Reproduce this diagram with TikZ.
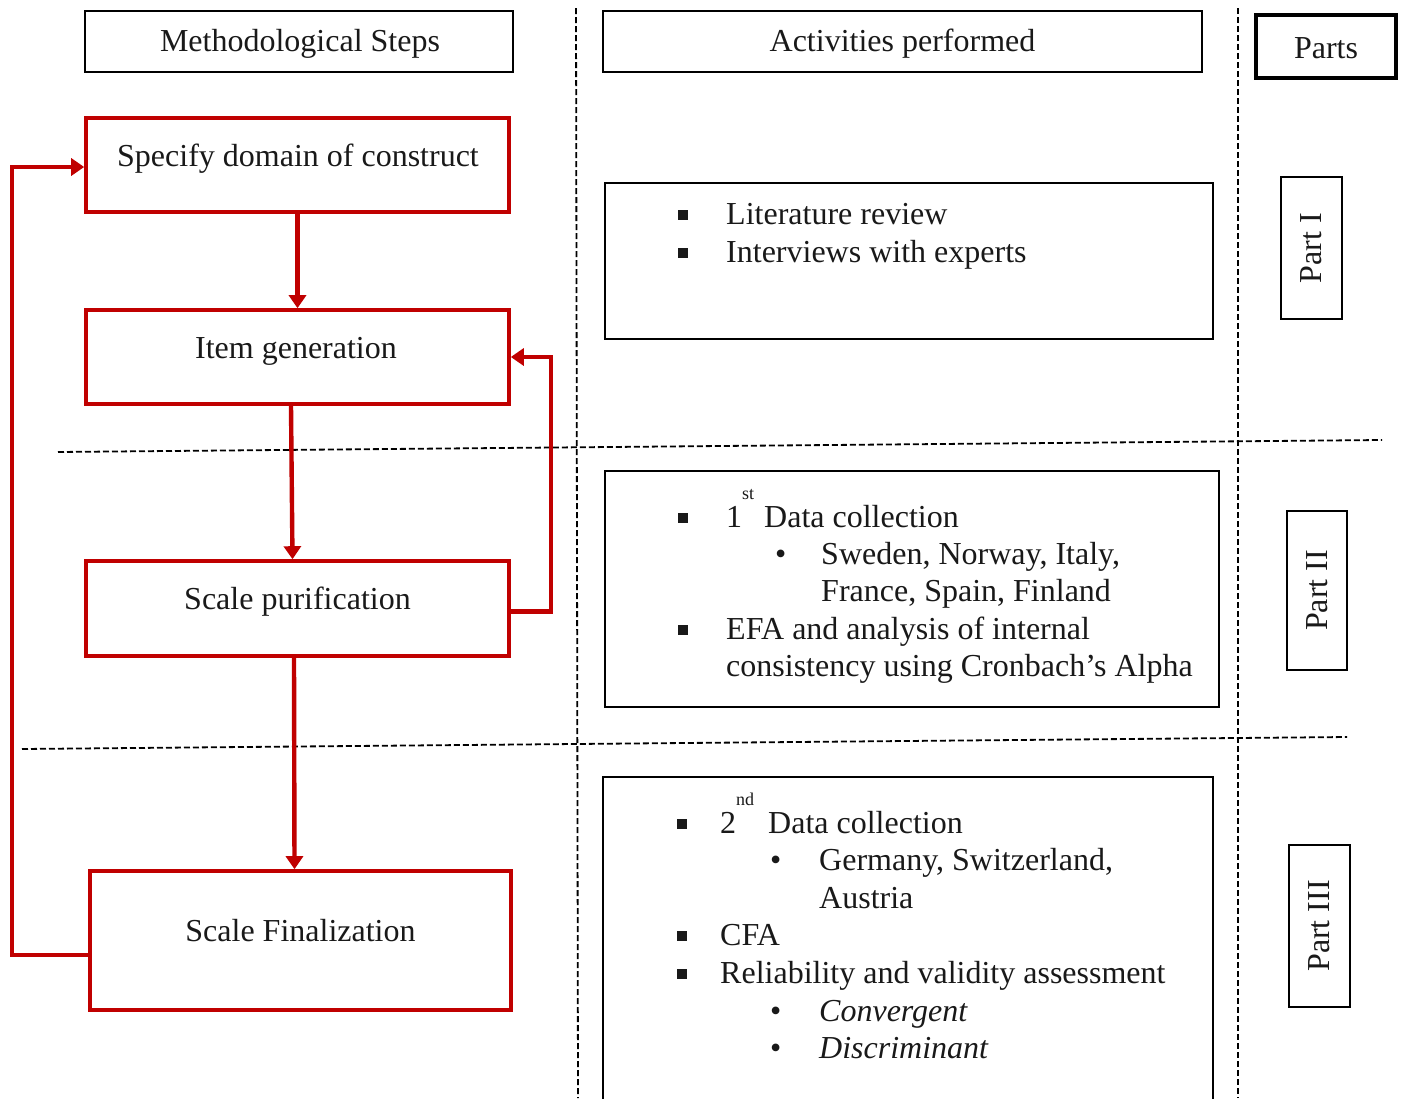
\documentclass[tikz,border=0pt]{standalone}
\usepackage{fontspec}
\setmainfont{Liberation Serif}
\usetikzlibrary{arrows.meta}
\definecolor{stepred}{RGB}{192,0,0}
\definecolor{ink}{RGB}{25,25,25}
\newcommand{\sqbul}{\rule[4pt]{10pt}{10pt}}
\newcommand{\supx}[1]{\raisebox{0.85em}{\fontsize{18}{18}\selectfont #1}}
\begin{document}
\begin{tikzpicture}[x=1pt,y=1pt,
  every node/.style={font=\fontsize{32}{37.5}\selectfont, text=ink},
  hdrbox/.style={draw=black, line width=2.4pt, inner sep=0},
  stepbox/.style={draw=stepred, line width=3.6pt, inner sep=0},
  actbox/.style={draw=black, line width=2.6pt, inner sep=0},
  partbox/.style={draw=black, line width=2.2pt, inner sep=0, rotate=90},
  lbl/.style={inner sep=0},
  txt/.style={anchor=base west, inner sep=0},
  flow/.style={draw=stepred, line width=4.4pt, -{Triangle[width=17pt,length=13pt]}},
  sep/.style={draw=black, line width=1.8pt, dash pattern=on 6pt off 3pt},
]
\path[use as bounding box, fill=white] (0,0) rectangle (1402,-1098);
\clip (0,0) rectangle (1402,-1098);

% column separators
\coordinate (v1t) at (576,-8);   \coordinate (v1b) at (578,-1098);
\coordinate (v2t) at (1238,-8);  \coordinate (v2b) at (1238,-1098);
\coordinate (h1l) at (58,-452);  \coordinate (h1r) at (1382,-440);
\coordinate (h2l) at (22,-749);  \coordinate (h2r) at (1347,-737);
\draw[sep] (v1t) -- (v1b);
\draw[sep] (v2t) -- (v2b);
\draw[sep] (h1l) -- (h1r);
\draw[sep] (h2l) -- (h2r);

% column headers
\node[hdrbox, minimum width=428, minimum height=61] (hsteps) at (299,-41.5) {};
\node[lbl] (hstepst) at (300,-44) {Methodological Steps};
\node[hdrbox, minimum width=599, minimum height=61] (hact) at (902.5,-41.5) {};
\node[lbl] (hactt) at (902.5,-44) {Activities performed};
\node[hdrbox, line width=3.2pt, minimum width=140, minimum height=63] (hparts) at (1326,-46.5) {};
\node[lbl] (hpartst) at (1326,-48) {Parts};

% methodological steps
\node[stepbox, minimum width=423, minimum height=94] (spec) at (297.5,-165) {};
\node[lbl] (spect) at (298,-159) {Specify domain of construct};
\node[stepbox, minimum width=423, minimum height=94] (item) at (297.5,-357) {};
\node[lbl] (itemt) at (296,-351) {Item generation};
\node[stepbox, minimum width=423, minimum height=95] (purif) at (297.5,-608.5) {};
\node[lbl] (purift) at (297.5,-602) {Scale purification};
\node[stepbox, minimum width=421, minimum height=139] (final) at (300.5,-940.5) {};
\node[lbl] (finalt) at (300.5,-931) {Scale Finalization};

% step flow
\draw[flow] (spec.south) -- (item.north);
\draw[flow] ([xshift=-6.5]item.south) -- ([xshift=-5]purif.north);
\draw[flow] ([xshift=-3.5]purif.south) -- ([xshift=-6]final.north);
\draw[flow] ([yshift=-3]purif.east) -- ++(40,0) |- (item.east);
\coordinate (lx) at (12,0);
\draw[flow] ([yshift=-14.5]final.west) -- ([yshift=-14.5]final.west -| lx) |- ([yshift=-2]spec.west);

% activities
\node[actbox, minimum width=608, minimum height=156] (act1) at (909,-261) {};
\node[txt] (a1b1) at (678,-224) {\sqbul};
\node[txt] (a1l1) at (726,-224) {Literature review};
\node[txt] (a1b2) at (678,-262) {\sqbul};
\node[txt] (a1l2) at (726,-262) {Interviews with experts};

\node[actbox, minimum width=614, minimum height=236] (act2) at (912,-589) {};
\node[txt] (a2b1) at (678,-527) {\sqbul};
\node[txt] (a2l1) at (726,-527) {1\supx{st}\hspace{2pt} Data collection};
\node[txt] (a2s1) at (775,-564) {\textbullet};
\node[txt] (a2l2) at (821,-564) {Sweden, Norway, Italy,};
\node[txt] (a2l3) at (821,-601) {France, Spain, Finland};
\node[txt] (a2b2) at (678,-639) {\sqbul};
\node[txt] (a2l4) at (726,-639) {EFA and analysis of internal};
\node[txt] (a2l5) at (726,-676) {consistency using Cronbach’s Alpha};

\node[actbox, minimum width=610, minimum height=333] (act3) at (908,-943.5) {};
\node[txt] (a3b1) at (677,-833) {\sqbul};
\node[txt] (a3l1) at (720,-833) {2\supx{nd}\hspace{6pt} Data collection};
\node[txt] (a3s1) at (770,-870) {\textbullet};
\node[txt] (a3l2) at (819,-870) {Germany, Switzerland,};
\node[txt] (a3l3) at (819,-908) {Austria};
\node[txt] (a3b2) at (677,-945) {\sqbul};
\node[txt] (a3l4) at (720,-945) {CFA};
\node[txt] (a3b3) at (677,-983) {\sqbul};
\node[txt] (a3l5) at (720,-983) {Reliability and validity assessment};
\node[txt] (a3s2) at (770,-1021) {\textbullet};
\node[txt] (a3l6) at (819,-1021) {\itshape Convergent};
\node[txt] (a3s3) at (770,-1058) {\textbullet};
\node[txt] (a3l7) at (819,-1058) {\itshape Discriminant};

% parts
\node[partbox, minimum width=142, minimum height=61] (p1) at (1311.5,-248) {Part I};
\node[partbox, minimum width=159, minimum height=60] (p2) at (1317,-590.5) {Part II};
\node[partbox, minimum width=162, minimum height=61] (p3) at (1319.5,-926) {Part III};
\end{tikzpicture}
\end{document}
